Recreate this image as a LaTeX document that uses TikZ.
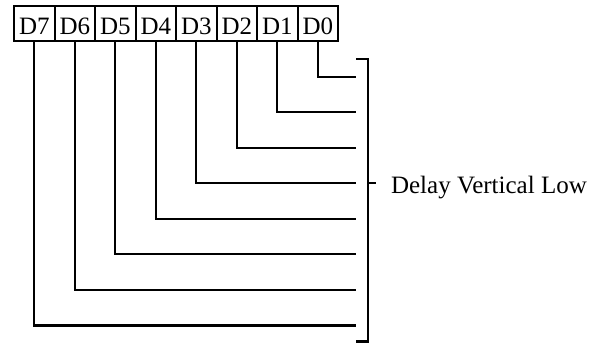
\documentclass[tikz,border=0pt]{standalone}
\usepackage{fontspec}
\setmainfont{Liberation Serif}
\begin{document}
\begin{tikzpicture}[x=1pt,y=-1pt,line width=2.1pt,
  bitbox/.style={draw,rectangle,inner sep=0pt,minimum width=40.5pt,
    text height=28.3pt,text depth=6.7pt,anchor=north west,
    font=\fontsize{25}{28}\selectfont},
  wire/.style={draw,line cap=rect}]
\useasboundingbox (0,0) rectangle (601,343);
\foreach \i/\n in {0/7,1/6,2/5,3/4,4/3,5/2,6/1,7/0}{
  \node[bitbox] (d\n) at ({13+40.5*\i},5) {D\n};
}
\foreach \n/\yy in {0/76.7,1/112.2,2/147.8,3/183.3,4/218.9,5/254.4,6/290.0,7/325.5}{
  \coordinate (e\n) at (356,\yy);
  \draw (d\n.south) |- (e\n);
}
\coordinate (bt) at (356,59);
\coordinate (bb) at (356,341.5);
\coordinate (bm) at (368,183.3);
\coordinate (tk) at (376,183.3);
\draw (bt) -- (368,59) -- (368,341.5) -- (bb);
\draw (bm) -- (tk);
\node[anchor=base west,inner sep=0pt,font=\fontsize{25}{28}\selectfont] (lbl) at (390,193.3) {Delay Vertical Low};
\end{tikzpicture}
\end{document}
